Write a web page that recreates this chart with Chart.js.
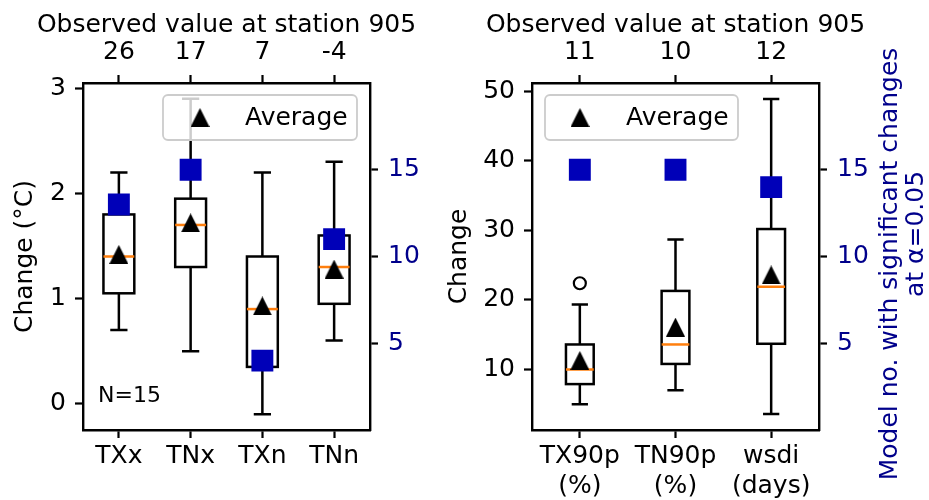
<!DOCTYPE html>
<html>
<head>
<meta charset="utf-8">
<script src="https://cdn.jsdelivr.net/npm/chart.js@4.4.1/dist/chart.umd.min.js"></script>
<style>
html, body { margin: 0; padding: 0; background: #fff; }
#wrap { position: relative; width: 929px; height: 500px; }
#leftCanvas { position: absolute; left: 0; top: 0; }
#rightCanvas { position: absolute; left: 440px; top: 0; }
</style>
</head>
<body>
<div id="wrap">
  <canvas id="leftCanvas" width="440" height="500"></canvas>
  <canvas id="rightCanvas" width="489" height="500"></canvas>
</div>
<script>
// ---- left panel: temperature extremes ----
var leftCategories = ["TXx", "TNx", "TXn", "TNn"];
var leftObserved = ["26", "17", "7", "-4"];
var leftWhiskerLow = [0.7, 0.5, -0.1, 0.6];
var leftQ1 = [1.05, 1.3, 0.35, 0.95];
var leftMedian = [1.4, 1.7, 0.9, 1.3];
var leftQ3 = [1.8, 1.95, 1.4, 1.6];
var leftWhiskerHigh = [2.2, 2.9, 2.2, 2.3];
var leftMean = [1.42, 1.72, 0.93, 1.28];
var leftModelCount = [13, 15, 4, 11];
var leftTicks = [0, 1, 2, 3];

// ---- right panel: warm days / nights / spells ----
var rightCategories = [["TX90p", "(%)"], ["TN90p", "(%)"], ["wsdi", "(days)"]];
var rightObserved = ["11", "10", "12"];
var rightWhiskerLow = [5.0, 7.0, 3.6];
var rightQ1 = [7.9, 10.8, 13.7];
var rightMedian = [10.0, 13.6, 21.9];
var rightQ3 = [13.6, 21.3, 30.2];
var rightWhiskerHigh = [19.35, 28.7, 48.9];
var rightOutliers = [[22.4], [], []];
var rightMean = [11.3, 16.1, 23.6];
var rightModelCount = [15, 15, 14];
var rightTicks = [10, 20, 30, 40, 50];

var countTicks = [5, 10, 15];

var BLUE = "#0000b8";
var NAVY = "#00008b";
var ORANGE = "#ff7f0e";
var FONT = { family: "DejaVu Sans", size: 25 };

Chart.defaults.font.family = "DejaVu Sans";
Chart.defaults.font.size = 25;
Chart.defaults.color = "black";

function makeTriangle(size) {
  var c = document.createElement("canvas");
  c.width = size;
  c.height = size;
  var g = c.getContext("2d");
  g.fillStyle = "black";
  g.beginPath();
  g.moveTo(size / 2, 0);
  g.lineTo(size, size);
  g.lineTo(0, size);
  g.closePath();
  g.fill();
  return c;
}
var meanMarker = makeTriangle(19);

function toPoints(values) {
  return values.map(function (v, i) { return { x: i, y: v }; });
}

// box, whiskers and median drawn through the chart's own scales
function boxPlugin(stats) {
  return {
    id: "boxes",
    beforeDatasetsDraw: function (chart) {
      var ctx = chart.ctx, xs = chart.scales.x, ys = chart.scales.y;
      var step = xs.getPixelForValue(1) - xs.getPixelForValue(0);
      var half = step * stats.boxWidth / 2;
      var cap = step * stats.capWidth / 2;
      ctx.save();
      ctx.lineWidth = 2.5;
      for (var i = 0; i < stats.median.length; i++) {
        var cx = xs.getPixelForValue(i);
        var lo = ys.getPixelForValue(stats.low[i]);
        var q1 = ys.getPixelForValue(stats.q1[i]);
        var med = ys.getPixelForValue(stats.median[i]);
        var q3 = ys.getPixelForValue(stats.q3[i]);
        var hi = ys.getPixelForValue(stats.high[i]);
        ctx.strokeStyle = "black";
        ctx.beginPath();
        ctx.moveTo(cx, q1); ctx.lineTo(cx, lo);
        ctx.moveTo(cx - cap, lo); ctx.lineTo(cx + cap, lo);
        ctx.moveTo(cx, q3); ctx.lineTo(cx, hi);
        ctx.moveTo(cx - cap, hi); ctx.lineTo(cx + cap, hi);
        ctx.stroke();
        ctx.strokeRect(cx - half, q3, 2 * half, q1 - q3);
        ctx.strokeStyle = ORANGE;
        ctx.beginPath();
        ctx.moveTo(cx - half, med); ctx.lineTo(cx + half, med);
        ctx.stroke();
      }
      ctx.restore();
    }
  };
}

// framed "Average" legend inside the plot area
function legendPlugin(where) {
  return {
    id: "avgLegend",
    afterDatasetsDraw: function (chart) {
      var ctx = chart.ctx, a = chart.chartArea;
      var x = where.fromRight ? a.right - where.offset - where.w : a.left + where.offset;
      var y = a.top + where.top;
      ctx.save();
      ctx.fillStyle = "rgba(255,255,255,0.8)";
      ctx.strokeStyle = "#cccccc";
      ctx.lineWidth = 1.8;
      ctx.beginPath();
      ctx.roundRect(x, y, where.w, where.h, 5);
      ctx.fill();
      ctx.stroke();
      ctx.drawImage(meanMarker, x + where.markerX - 9.5, y + where.h / 2 - 9.5);
      ctx.fillStyle = "black";
      ctx.font = "25px 'DejaVu Sans'";
      ctx.textBaseline = "middle";
      ctx.fillText("Average", x + where.textX, y + where.h / 2 + 1);
      ctx.restore();
    }
  };
}

// free text: top titles, the N label and the two-line right-hand axis title
function notesPlugin(notes) {
  return {
    id: "notes",
    afterDraw: function (chart) {
      var ctx = chart.ctx, a = chart.chartArea;
      notes.forEach(function (n) {
        ctx.save();
        ctx.font = n.size + "px 'DejaVu Sans'";
        ctx.fillStyle = n.color;
        ctx.textAlign = n.align;
        ctx.textBaseline = "alphabetic";
        var x = n.overArea ? (a.left + a.right) / 2 : n.x;
        ctx.translate(x, n.y);
        if (n.vertical) ctx.rotate(-Math.PI / 2);
        ctx.fillText(n.text, 0, 0);
        ctx.restore();
      });
    }
  };
}

var tickGrid = { display: true, drawOnChartArea: false, drawTicks: true, tickLength: 8, tickWidth: 2.2, tickColor: "black", offset: false };
var spine = { display: true, color: "black", width: 2.4 };

function fixedTicks(list) {
  return function (scale) {
    scale.ticks = list.map(function (v) { return { value: v }; });
  };
}

function makeScales(p) {
  return {
    x: {
      type: "category", labels: p.categories, offset: true, position: "bottom",
      grid: tickGrid, border: spine,
      ticks: { font: FONT, color: "black", padding: 3, maxRotation: 0, autoSkip: false },
      afterFit: function (s) { s.height = 70; }
    },
    x2: {
      type: "category", labels: p.observed, offset: true, position: "top",
      grid: tickGrid, border: spine,
      ticks: { font: FONT, color: "black", padding: 8, maxRotation: 0, autoSkip: false },
      afterFit: function (s) { s.height = 83; }
    },
    y: {
      type: "linear", position: "left", min: p.min, max: p.max,
      grid: tickGrid, border: spine,
      afterBuildTicks: fixedTicks(p.ticks),
      ticks: { font: FONT, color: "black", padding: 9 },
      title: { display: true, text: p.yTitle, font: FONT, color: "black", padding: { top: p.titlePad, bottom: 0 } },
      afterFit: function (s) { s.width = p.leftWidth; }
    },
    y2: {
      type: "linear", position: "right", min: 0, max: 20,
      grid: tickGrid, border: spine,
      afterBuildTicks: fixedTicks(countTicks),
      ticks: { font: FONT, color: NAVY, padding: 10 },
      afterFit: function (s) { s.width = p.rightWidth; }
    }
  };
}

function makeDatasets(mean, counts, outliers) {
  var sets = [
    { label: "Average", data: toPoints(mean), pointStyle: meanMarker, pointRadius: 10, yAxisID: "y", order: 1 },
    { label: "Model no.", data: toPoints(counts), pointStyle: "rect", pointRadius: 15.5,
      backgroundColor: BLUE, borderColor: BLUE, borderWidth: 0, yAxisID: "y2", order: 2 }
  ];
  if (outliers) {
    var pts = [];
    outliers.forEach(function (list, i) {
      list.forEach(function (v) { pts.push({ x: i, y: v }); });
    });
    sets.push({ label: "Outliers", data: pts, pointStyle: "circle", pointRadius: 6,
      backgroundColor: "rgba(0,0,0,0)", borderColor: "black", borderWidth: 2.2, yAxisID: "y", order: 3 });
  }
  return sets;
}

var baseOptions = {
  responsive: false,
  animation: false,
  events: [],
  layout: { padding: 0 },
  plugins: { legend: { display: false }, tooltip: { enabled: false } }
};

var topTitle = "Observed value at station 905";

var leftChart = new Chart(document.getElementById("leftCanvas"), {
  type: "scatter",
  data: { datasets: makeDatasets(leftMean, leftModelCount, null) },
  options: Object.assign({}, baseOptions, {
    scales: makeScales({
      categories: leftCategories, observed: leftObserved, min: -0.25, max: 3.05,
      ticks: leftTicks, yTitle: "Change (°C)", titlePad: 10, leftWidth: 83, rightWidth: 70
    })
  }),
  plugins: [
    boxPlugin({ low: leftWhiskerLow, q1: leftQ1, median: leftMedian, q3: leftQ3, high: leftWhiskerHigh, boxWidth: 0.43, capWidth: 0.24 }),
    legendPlugin({ fromRight: true, offset: 13, top: 12, w: 194, h: 45, markerX: 37, textX: 82 }),
    notesPlugin([
      { text: topTitle, overArea: true, y: 32, size: 25, color: "black", align: "center" },
      { text: "N=15", x: 98, y: 402, size: 22, color: "black", align: "left" }
    ])
  ]
});

var rightChart = new Chart(document.getElementById("rightCanvas"), {
  type: "scatter",
  data: { datasets: makeDatasets(rightMean, rightModelCount, rightOutliers) },
  options: Object.assign({}, baseOptions, {
    scales: makeScales({
      categories: rightCategories, observed: rightObserved, min: 1.3, max: 51.2,
      ticks: rightTicks, yTitle: "Change", titlePad: 4, leftWidth: 92, rightWidth: 110
    })
  }),
  plugins: [
    boxPlugin({ low: rightWhiskerLow, q1: rightQ1, median: rightMedian, q3: rightQ3, high: rightWhiskerHigh, boxWidth: 0.29, capWidth: 0.17 }),
    legendPlugin({ fromRight: false, offset: 13, top: 12, w: 193, h: 45, markerX: 35, textX: 81 }),
    notesPlugin([
      { text: topTitle, overArea: true, y: 32, size: 25, color: "black", align: "center" },
      { text: "Model no. with significant changes", x: 457, y: 264, size: 25, color: NAVY, align: "center", vertical: true },
      { text: "at α=0.05", x: 483, y: 234, size: 25, color: NAVY, align: "center", vertical: true }
    ])
  ]
});
</script>
</body>
</html>
